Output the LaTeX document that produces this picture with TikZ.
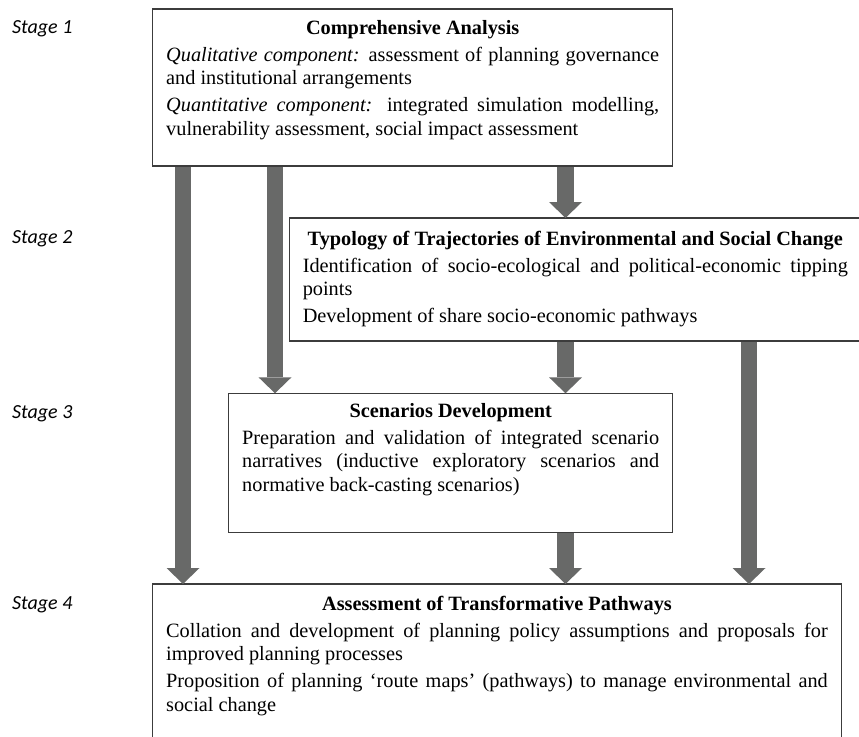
\documentclass[tikz,border=0pt]{standalone}
\usepackage{fontspec}
\setmainfont{Liberation Serif}
\newfontfamily\stagefont{Carlito}
\usetikzlibrary{arrows.meta}
\definecolor{arrowgray}{RGB}{104,105,104}
\definecolor{boxline}{RGB}{60,60,60}
\newcommand{\bxtext}[3]{\begin{minipage}[t][#2][t]{#1}\fontsize{20.3}{23.3}\selectfont\setlength{\parindent}{0pt}\setlength{\parskip}{4pt}\hyphenpenalty=10000 #3\end{minipage}}
\newcommand{\bxtitle}[2]{{\centering\rule{0pt}{#1}\textbf{#2}\par}}
\tikzset{
  box/.style={draw=boxline, line width=1.2pt, fill=white, anchor=north west,
    inner xsep=13.5pt, inner ysep=0pt, outer sep=0pt},
  stagelabel/.style={anchor=base west, inner sep=0pt,
    font=\stagefont\itshape\fontsize{20}{24}\selectfont},
  bigarrow/.style={draw=arrowgray, line width=16.5pt, shorten <=0.6pt,
    -{Triangle[width=33pt,length=16pt,line width=0pt]}}
}
\begin{document}
\begin{tikzpicture}[x=1pt,y=-1pt]
\useasboundingbox (0,0) rectangle (859,736);
% stage labels
\node[stagelabel] (s1) at (12,33.3) {Stage 1};
\node[stagelabel] (s2) at (12,243) {Stage 2};
\node[stagelabel] (s3) at (12,418) {Stage 3};
\node[stagelabel] (s4) at (12,609.6) {Stage 4};
% boxes
\node[box] (b1) at (152.7,9) {\bxtext{493pt}{157pt}{%
  \bxtitle{25pt}{Comprehensive Analysis}
  \textit{Qualitative component:} assessment of planning governance\linebreak and institutional arrangements\par
  \textit{Quantitative component:} integrated simulation modelling,\linebreak vulnerability assessment, social impact assessment}};
\node[box] (b2) at (289.3,218) {\bxtext{545pt}{123pt}{%
  \bxtitle{27pt}{Typology of Trajectories of Environmental and Social Change}
  Identification of socio-ecological and political-economic tipping\linebreak points\par
  Development of share socio-economic pathways}};
\node[box] (b3) at (228.7,393.3) {\bxtext{417pt}{139pt}{%
  \bxtitle{24pt}{Scenarios Development}
  Preparation and validation of integrated scenario\linebreak narratives (inductive exploratory scenarios and\linebreak normative back-casting scenarios)}};
\node[box] (b4) at (152.7,584) {\bxtext{661.6pt}{175pt}{%
  \bxtitle{26pt}{Assessment of Transformative Pathways}
  Collation and development of planning policy assumptions and proposals for\linebreak improved planning processes\par
  Proposition of planning ‘route maps’ (pathways) to manage environmental and\linebreak social change}};
% arrow columns
\coordinate (xa1) at (183,0);
\coordinate (xa2) at (275,0);
\coordinate (xa3) at (565.5,0);
\coordinate (xa6) at (749,0);
% arrows
\draw[bigarrow] (b1.south -| xa1) -- (b4.north -| xa1);
\draw[bigarrow] (b1.south -| xa2) -- (b3.north -| xa2);
\draw[bigarrow] (b1.south -| xa3) -- (b2.north -| xa3);
\draw[bigarrow] (b2.south -| xa3) -- (b3.north -| xa3);
\draw[bigarrow] (b3.south -| xa3) -- (b4.north -| xa3);
\draw[bigarrow] (b2.south -| xa6) -- (b4.north -| xa6);
\end{tikzpicture}
\end{document}
